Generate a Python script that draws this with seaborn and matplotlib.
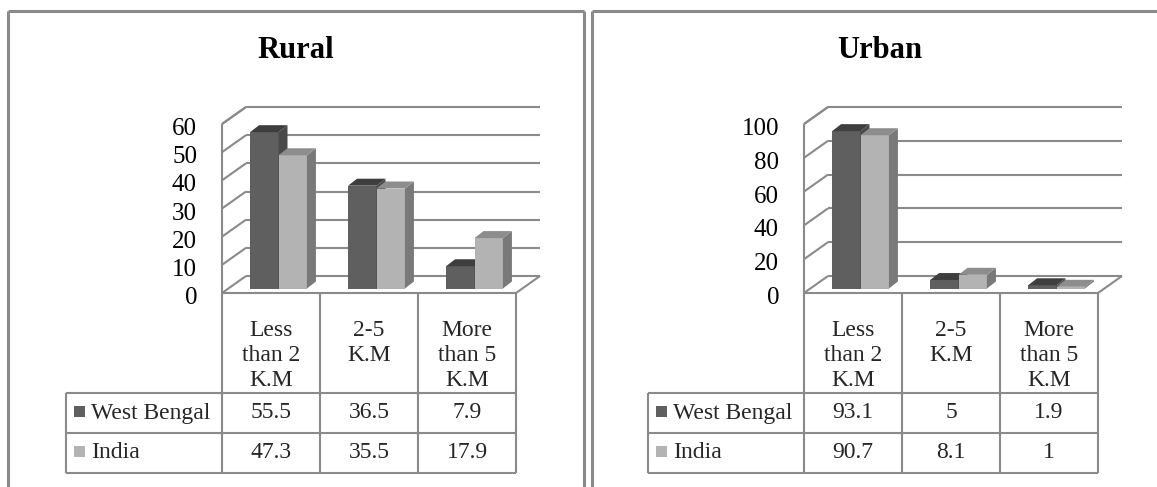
import numpy as np
import pandas as pd
import matplotlib
matplotlib.use("Agg")
import matplotlib.pyplot as plt
import matplotlib.transforms as mtransforms
from matplotlib.lines import Line2D
from matplotlib.patches import Polygon, Rectangle
import seaborn as sns

# ---- data -------------------------------------------------------------
categories = ["Less\nthan 2\nK.M", "2-5\nK.M", "More\nthan 5\nK.M"]
series = ["West Bengal", "India"]
rural_wb = [55.5, 36.5, 7.9]
rural_india = [47.3, 35.5, 17.9]
urban_wb = [93.1, 5, 1.9]
urban_india = [90.7, 8.1, 1]
rural_ticks = [0, 10, 20, 30, 40, 50, 60]
urban_ticks = [0, 20, 40, 60, 80, 100]

# ---- style ------------------------------------------------------------
W, H, DPI = 1157, 487, 100
sns.set_theme(style="white")
plt.rcParams["font.family"] = ["Liberation Serif", "DejaVu Serif"]

LINE = "#8a8a8a"
FRONT = {"West Bengal": "#5f5f5f", "India": "#b3b3b3"}
TOP = {"West Bengal": "#3e3e3e", "India": "#8d8d8d"}
SIDE = {"West Bengal": "#4a4a4a", "India": "#797979"}

FLOOR_Y = 293          # front edge of the floor (pixels from top)
PLOT_H = 169           # height of the value range on the front plane
CAT_W = 98             # width of one category column
WALL = (24, -17)       # depth of the box (pixels right, pixels down)
PLANE = (7.5, -4.5)    # front face of the columns inside the box
BAR_D = (9, -7)        # depth of one column
LEG_W = 156            # width of the legend column of the data table
ROWS = [293, 393, 433, 473]

fig = plt.figure(figsize=(W / DPI, H / DPI), dpi=DPI)
fig.patch.set_facecolor("white")
# pixel coordinates with the origin at the top-left corner
PIX = mtransforms.Affine2D().scale(1 / W, -1 / H).translate(0, 1) + fig.transFigure


def pline(xs, ys, lw=1.5, color=LINE):
    fig.add_artist(Line2D(xs, ys, transform=PIX, color=color, lw=lw,
                          solid_capstyle="butt"))


def panel(x0, title, title_x, wb, india, ticks):
    ymax = ticks[-1]
    ax = fig.add_axes([x0 / W, (H - FLOOR_Y) / H, 3 * CAT_W / W, PLOT_H / H])
    df = pd.DataFrame({
        "distance": categories * 2,
        "region": [s for s in series for _ in categories],
        "value": list(wb) + list(india),
    })
    sns.barplot(data=df, x="distance", y="value", hue="region",
                order=categories, hue_order=series, palette=FRONT,
                width=0.58, gap=0, dodge=True, saturation=1,
                errorbar=None, legend=False, ax=ax)
    ax.set_xlim(-0.5, 2.5)
    ax.set_ylim(0, ymax)
    ax.axis("off")

    sx, sy = CAT_W, PLOT_H / ymax

    def d(px, py):
        return px / sx, -py / sy

    kw = dict(color=LINE, lw=1.5, clip_on=False, solid_capstyle="butt")
    bx, by = d(*WALL)
    # back wall and side wall grid
    for t in ticks:
        ax.plot([-0.5 + bx, 2.5 + bx], [t + by, t + by], zorder=1, **kw)
        ax.plot([-0.5, -0.5 + bx], [t, t + by], zorder=1, **kw)
    ax.plot([-0.5, -0.5], [0, ymax], zorder=1, **kw)
    ax.plot([-0.5, -0.5 + bx], [ymax, ymax + by], zorder=1, **kw)
    # floor edges
    ax.plot([-0.5, 2.5], [0, 0], zorder=6, **kw)
    ax.plot([2.5, 2.5 + bx], [0, by], zorder=6, **kw)

    # columns with their top and side faces
    px_, py_ = d(*PLANE)
    ddx, ddy = d(*BAR_D)
    for z, (cont, name) in enumerate(zip(ax.containers, series)):
        for bar in cont:
            x, w, h = bar.get_x(), bar.get_width(), bar.get_height()
            xl, xr = x + px_, x + px_ + w
            yb, yt = py_, py_ + h
            bar.set_x(xl)
            bar.set_y(yb)
            bar.set_edgecolor("none")
            bar.set_zorder(3 + z)
            bar.set_clip_on(False)
            ax.add_patch(Polygon([(xr, yb), (xr + ddx, yb + ddy),
                                  (xr + ddx, yt + ddy), (xr, yt)],
                                 closed=True, facecolor=SIDE[name],
                                 edgecolor="none", zorder=3 + z, clip_on=False))
            ax.add_patch(Polygon([(xl, yt), (xr, yt), (xr + ddx, yt + ddy),
                                  (xl + ddx, yt + ddy)],
                                 closed=True, facecolor=TOP[name],
                                 edgecolor="none", zorder=3 + z, clip_on=False))

    # value axis labels on the front plane
    lab_tr = ax.transData + mtransforms.ScaledTranslation(-25 / DPI, -5 / DPI,
                                                          fig.dpi_scale_trans)
    for t in ticks:
        ax.text(-0.5, t, f"{t}", transform=lab_tr, ha="right", va="center",
                fontsize=18, color="black")

    # title
    fig.text(title_x, 50, title, transform=PIX, ha="center", va="center",
             fontsize=22, fontweight="bold", color="black")

    # data table
    cols = [x0 + i * CAT_W for i in range(4)]
    left = x0 - LEG_W
    for cx in cols:
        pline([cx, cx], [ROWS[0], ROWS[-1]])
    pline([left, left], [ROWS[1], ROWS[-1]])
    for ry in ROWS[1:]:
        pline([left, cols[-1]], [ry, ry])
    for i, cat in enumerate(categories):
        fig.text((cols[i] + cols[i + 1]) / 2, 320, cat, transform=PIX,
                 ha="center", va="top", fontsize=17, linespacing=1.26)
    for r, (name, vals) in enumerate(zip(series, [wb, india])):
        cy = (ROWS[r + 1] + ROWS[r + 2]) / 2
        fig.add_artist(Rectangle((left + 8, cy - 7), 11, 11, transform=PIX,
                                 facecolor=FRONT[name], edgecolor="none"))
        fig.text(left + 25, cy, name, transform=PIX, ha="left", va="center",
                 fontsize=17)
        for i, v in enumerate(vals):
            fig.text((cols[i] + cols[i + 1]) / 2, cy, f"{v:g}", transform=PIX,
                     ha="center", va="center", fontsize=17)


panel(222, "Rural", 296, rural_wb, rural_india, rural_ticks)
panel(804, "Urban", 880, urban_wb, urban_india, urban_ticks)

# chart frames
pline([8, 8], [H + 2, 11], lw=2.2)
pline([8, 584], [11, 11], lw=2.2)
pline([584, 584], [11, H + 2], lw=2.2)
pline([592, 592], [H + 2, 11], lw=2.2)
pline([592, W + 2], [11, 11], lw=2.2)

fig.savefig("out.png", dpi=DPI, facecolor="white")
